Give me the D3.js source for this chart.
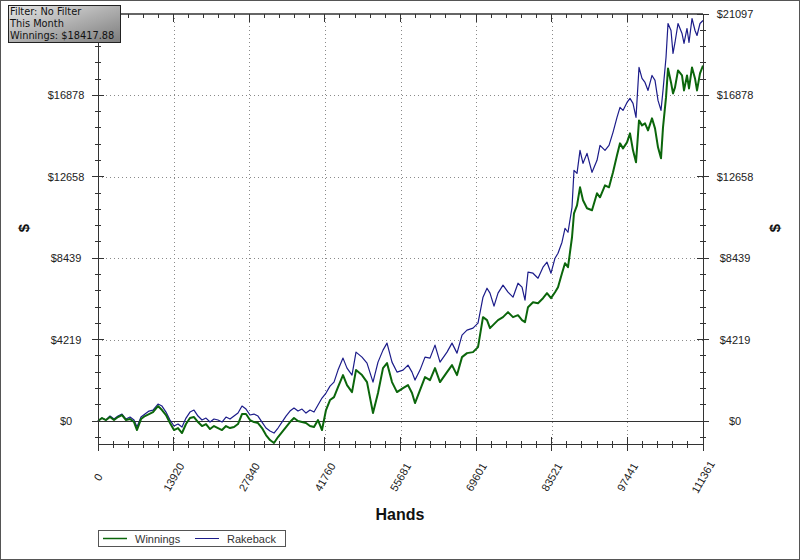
<!DOCTYPE html>
<html>
<head>
<meta charset="utf-8">
<script src="https://cdn.jsdelivr.net/npm/d3@7"></script>
<style>
  html, body { margin: 0; padding: 0; background: #fff; }
  svg { display: block; font-family: "Liberation Sans", Arial, sans-serif; }
</style>
</head>
<body>
<div id="d3-container"></div>
<script>
// hands played at each sample point
const hands = [
    0, 736, 1473, 2209, 2945, 3681, 4418, 5154, 5890, 6627,
    7179, 7915, 8651, 9388, 10124, 11044, 11780, 12517, 13253, 13989,
    14726, 15462, 16198, 16934, 17671, 18407, 19143, 19880, 20616, 21352,
    22088, 22825, 23561, 24297, 25034, 25770, 26506, 27242, 27979, 28715,
    29451, 30187, 30924, 31660, 32396, 33133, 33869, 34605, 35341, 36078,
    36814, 37550, 38287, 39023, 39759, 40495, 41232, 41968, 42704, 43441,
    44177, 45097, 45833, 46754, 47490, 48594, 49515, 50619, 51540, 52460,
    53196, 54117, 55037, 56141, 57062, 57798, 58350, 59271, 60191, 61111,
    62032, 62952, 64240, 65161, 66081, 67001, 67922, 69026, 69947, 70867,
    71603, 72155, 72892, 73628, 74548, 75469, 76389, 77309, 78046, 78598,
    79150, 80070, 80991, 81911, 82647, 83384, 84120, 84672, 85408, 85961,
    86513, 87249, 87617, 88170, 88722, 89274, 90010, 90931, 91851, 92403,
    93323, 94060, 94796, 95532, 96085, 96637, 97373, 97925, 98477, 99030,
    99582, 100134, 100686, 101239, 101975, 102527, 103079, 103631, 104000, 104552,
    104920, 105472, 105840, 106208, 106761, 107497, 107865, 108417, 108785, 109338,
    109890, 110258, 110810, 111361
];

// cumulative winnings ($)
const winnings = [
    0, 155, 52, 207, 52, 207, 311, 52, 104, -52,
    -466, 104, 259, 362, 466, 777, 569, 311, -104, -466,
    -362, -621, -155, 155, 207, -52, -259, -155, -414, -259,
    -362, -466, -259, -362, -311, -155, 362, 362, 52, -52,
    -104, -362, -725, -984, -1139, -828, -569, -311, -52, 155,
    0, -52, -104, -259, -311, 52, -466, 569, 1087, 1242,
    1760, 2381, 1864, 1501, 2640, 2381, 2019, 414, 1450, 2744,
    3003, 2019, 1501, 1708, 1864, 1450, 932, 1605, 2278, 2123,
    2744, 2019, 2537, 2899, 2381, 3313, 3520, 3572, 3831, 5384,
    5229, 4815, 5022, 5229, 5384, 5643, 5384, 5488, 5229, 5125,
    5902, 6161, 6109, 6368, 6627, 6368, 6678, 6937, 7662, 8180,
    7973, 9526, 10768, 11182, 12114, 11441, 11027, 10923, 11804, 11596,
    12218, 12114, 12891, 13771, 14392, 14133, 14444, 14910, 14030, 13408,
    15583, 15324, 15427, 15065, 15686, 15169, 14185, 13616, 15220, 16774,
    18275, 17550, 16981, 17291, 18171, 17912, 17136, 17912, 17239, 18327,
    17757, 17136, 18016, 18418
];

// winnings plus rakeback ($)
const rakeback = [
    0, 155, 52, 259, 104, 259, 362, 104, 207, 52,
    -311, 207, 362, 518, 569, 880, 777, 466, 52, -259,
    -155, -311, 155, 466, 569, 259, 52, 155, -52, 104,
    52, -52, 207, 104, 259, 414, 777, 621, 311, 362,
    259, -52, -362, -518, -621, -362, -52, 259, 518, 673,
    518, 621, 414, 569, 466, 828, 1191, 1450, 1812, 2019,
    2640, 3262, 2744, 2381, 3572, 3313, 3003, 2019, 3054, 3676,
    4038, 3054, 2537, 2640, 2899, 2537, 2123, 2640, 3313, 3262,
    3935, 3054, 3572, 4038, 3520, 4452, 4711, 4815, 5073, 6419,
    6885, 6627, 5954, 6627, 7041, 6678, 6419, 7144, 6937, 6264,
    7714, 7662, 7403, 7973, 8231, 7662, 8439, 8697, 9267, 9992,
    9785, 11079, 12994, 12839, 14030, 13357, 13874, 12891, 13512, 14289,
    14030, 14289, 14962, 15738, 16256, 16100, 16515, 16722, 16463, 15738,
    18327, 17757, 17550, 17136, 17912, 17654, 16618, 16100, 17136, 18844,
    20604, 20242, 19051, 19621, 20604, 20087, 19569, 20346, 19621, 20863,
    20242, 19983, 20604, 20760
];

const xTicks = [0, 13920, 27840, 41760, 55681, 69601, 83521, 97441, 111361];
const yTicks = [0, 4219, 8439, 12658, 16878, 21097];
const yTickLabels = ['$0', '$4219', '$8439', '$12658', '$16878', '$21097'];
const infoLines = ['Filter: No Filter', 'This Month', 'Winnings: $18417.88'];
const seriesNames = ['Winnings', 'Rakeback'];
const seriesColors = ['#0b660b', '#1c1c8a'];

const width = 800;
const height = 560;
const margin = { top: 14, bottom: 116, left: 98, right: 97 };

const svg = d3.select('#d3-container')
    .append('svg')
    .attr('width', width)
    .attr('height', height);

const x = d3.scaleLinear()
    .domain([0, 111361])
    .range([margin.left, width - margin.right]);

const y = d3.scaleLinear()
    .domain([-1190, 21097])
    .range([height - margin.bottom, margin.top]);

const x0 = x.range()[0], x1 = x.range()[1];
const yb = y.range()[0], yt = y.range()[1];

// outer border
svg.append('rect')
    .attr('x', 0.5).attr('y', 0.5)
    .attr('width', width - 1).attr('height', height - 1)
    .attr('fill', '#fff').attr('stroke', '#555');

// dotted grid
const grid = svg.append('g')
    .attr('stroke', '#8a8a8a')
    .attr('stroke-dasharray', '1,3');

grid.selectAll('line.vx')
    .data(xTicks.slice(1, -1))
    .join('line')
    .attr('class', 'vx')
    .attr('x1', d => Math.round(x(d)) + 0.5).attr('x2', d => Math.round(x(d)) + 0.5)
    .attr('y1', yt).attr('y2', yb);

grid.selectAll('line.hy')
    .data(yTicks.slice(1, -1))
    .join('line')
    .attr('class', 'hy')
    .attr('x1', x0).attr('x2', x1)
    .attr('y1', d => Math.round(y(d)) + 0.5).attr('y2', d => Math.round(y(d)) + 0.5);

// zero line
svg.append('line')
    .attr('x1', x0).attr('x2', x1 + 6)
    .attr('y1', Math.round(y(0)) + 0.5).attr('y2', Math.round(y(0)) + 0.5)
    .attr('stroke', '#333');

// series
const data = hands.map((h, i) => ({ h: h, w: winnings[i], r: rakeback[i] }));

const lineR = d3.line().x(d => x(d.h)).y(d => y(d.r));
const lineW = d3.line().x(d => x(d.h)).y(d => y(d.w));

svg.append('path')
    .datum(data)
    .attr('d', lineR)
    .attr('fill', 'none')
    .attr('stroke', seriesColors[1])
    .attr('stroke-width', 1.2)
    .attr('stroke-linejoin', 'round');

svg.append('path')
    .datum(data)
    .attr('d', lineW)
    .attr('fill', 'none')
    .attr('stroke', seriesColors[0])
    .attr('stroke-width', 2)
    .attr('stroke-linejoin', 'round');

// frame
const frame = svg.append('g').attr('stroke', '#333').attr('shape-rendering', 'crispEdges');
frame.append('line').attr('x1', x0).attr('x2', x0).attr('y1', yt).attr('y2', yb);
frame.append('line').attr('x1', x1).attr('x2', x1).attr('y1', yt).attr('y2', yb);
frame.append('line').attr('x1', x0).attr('x2', x1).attr('y1', yb).attr('y2', yb);
frame.append('line').attr('x1', x0).attr('x2', x1).attr('y1', yt).attr('y2', yt)
    .attr('stroke', '#666').attr('stroke-width', 2);

// ticks
const xStep = xTicks[1] / 5;
const xMinor = d3.range(0, 41).map(i => i * xStep).filter((d, i) => i % 5 !== 0);
const yStep = yTicks[5] / 25;
const yMinor = d3.range(-1, 26).filter(i => i % 5 !== 0).map(i => i * yStep);

const ticks = svg.append('g').attr('stroke', '#333').attr('shape-rendering', 'crispEdges');

// bottom axis
ticks.selectAll('line.bmaj').data(xTicks).join('line').attr('class', 'bmaj')
    .attr('x1', d => x(d)).attr('x2', d => x(d)).attr('y1', yb - 7).attr('y2', yb + 7);
ticks.selectAll('line.bmin').data(xMinor).join('line').attr('class', 'bmin')
    .attr('x1', d => x(d)).attr('x2', d => x(d)).attr('y1', yb - 3).attr('y2', yb + 4);
// top axis
ticks.selectAll('line.tmaj').data(xTicks).join('line').attr('class', 'tmaj')
    .attr('x1', d => x(d)).attr('x2', d => x(d)).attr('y1', yt).attr('y2', yt + 8);
ticks.selectAll('line.tmin').data(xMinor).join('line').attr('class', 'tmin')
    .attr('x1', d => x(d)).attr('x2', d => x(d)).attr('y1', yt).attr('y2', yt + 4);
// left and right axes
[x0, x1].forEach(ax => {
    ticks.append('g').selectAll('line').data(yTicks).join('line')
        .attr('x1', ax - 6).attr('x2', ax + 6).attr('y1', d => y(d)).attr('y2', d => y(d));
    ticks.append('g').selectAll('line').data(yMinor).join('line')
        .attr('x1', ax - 3).attr('x2', ax + 3).attr('y1', d => y(d)).attr('y2', d => y(d));
});

// tick labels
const labels = svg.append('g').attr('font-size', '11px').attr('fill', '#222');

labels.selectAll('text.xl')
    .data(xTicks)
    .join('text')
    .attr('class', 'xl')
    .attr('text-anchor', 'middle')
    .attr('dominant-baseline', 'central')
    .attr('transform', d => `translate(${x(d)},477) rotate(-60)`)
    .text(d => d);

// the left top label sits under the filter box, so only the right axis shows it
[[66, yTicks.length - 1], [735, yTicks.length]].forEach(([lx, n]) => {
    labels.append('g').selectAll('text')
        .data(yTicks.slice(0, n))
        .join('text')
        .attr('x', lx)
        .attr('y', d => y(d))
        .attr('text-anchor', 'middle')
        .attr('dominant-baseline', 'central')
        .text((d, i) => yTickLabels[i]);
});

// axis titles
svg.append('text')
    .attr('x', 400).attr('y', 520)
    .attr('text-anchor', 'middle')
    .attr('font-size', '16px').attr('font-weight', 'bold').attr('fill', '#111')
    .text('Hands');

[23, 774].forEach(tx => {
    svg.append('text')
        .attr('transform', `translate(${tx},228) rotate(-90)`)
        .attr('text-anchor', 'middle')
        .attr('dominant-baseline', 'central')
        .attr('font-size', '15px').attr('font-weight', 'bold').attr('fill', '#111')
        .text('$');
});

// legend
const legend = svg.append('g');
legend.append('rect')
    .attr('x', 98.5).attr('y', 530.5).attr('width', 187).attr('height', 16)
    .attr('fill', '#fff').attr('stroke', '#555');
const legendX = [103, 195];
seriesNames.forEach((name, i) => {
    legend.append('line')
        .attr('x1', legendX[i]).attr('x2', legendX[i] + 24)
        .attr('y1', 538.5).attr('y2', 538.5)
        .attr('stroke', seriesColors[i])
        .attr('stroke-width', i === 0 ? 1.5 : 1);
    legend.append('text')
        .attr('x', legendX[i] + 32).attr('y', 542.5)
        .attr('font-size', '11px').attr('fill', '#333')
        .text(name);
});

// filter info box
const defs = svg.append('defs');
const grad = defs.append('linearGradient')
    .attr('id', 'infoGrad')
    .attr('x1', '0%').attr('y1', '0%').attr('x2', '100%').attr('y2', '100%');
grad.append('stop').attr('offset', '0%').attr('stop-color', '#e6e6e6');
grad.append('stop').attr('offset', '100%').attr('stop-color', '#7c7c7c');

svg.append('rect')
    .attr('x', 8.5).attr('y', 5.5).attr('width', 112).attr('height', 37)
    .attr('fill', 'url(#infoGrad)').attr('stroke', '#222');

svg.append('g').selectAll('text')
    .data(infoLines)
    .join('text')
    .attr('x', 10)
    .attr('y', (d, i) => 14.5 + i * 12.3)
    .attr('font-family', '"DejaVu Sans", sans-serif')
    .attr('font-size', '9.8px')
    .attr('fill', '#111')
    .text(d => d);
</script>
</body>
</html>
